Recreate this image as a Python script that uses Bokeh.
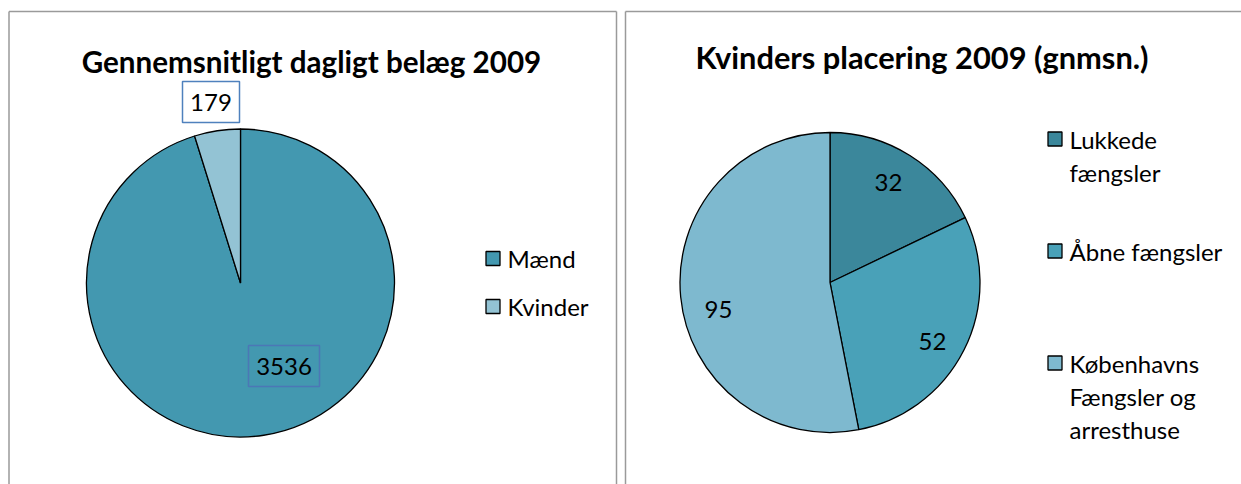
import numpy as np
from bokeh.plotting import figure
from bokeh.models import Range1d, ColumnDataSource
from bokeh.core.properties import value
from bokeh.embed import file_html
from bokeh.resources import INLINE

# ---------------- data ----------------
left_title = "Gennemsnitligt dagligt belæg 2009"
left_categories = ["Mænd", "Kvinder"]
left_values = [3536, 179]
left_colors = ["#4398B0", "#93C3D4"]

right_title = "Kvinders placering 2009 (gnmsn.)"
right_categories = ["Lukkede\nfængsler", "Åbne fængsler", "Københavns\nFængsler og\narresthuse"]
right_values = [32, 52, 95]
right_colors = ["#3B879B", "#49A1B8", "#7EB9CF"]

FONT = "Lato"
W, H = 1241, 484


def Y(sy):
    # screen y (page pixels) -> data y
    return H - sy


p = figure(width=W, height=H, x_range=Range1d(0, W), y_range=Range1d(0, H),
           output_backend="svg", toolbar_location=None, min_border=0)
p.axis.visible = False
p.grid.visible = False
p.outline_line_color = None
p.background_fill_color = "white"

# panel borders
bx0 = [8.5, 8.5, 616, 625, 625]
by0 = [Y(11), Y(11), Y(11), Y(11), Y(11)]
bx1 = [8.5, 616, 616, 625, 1245]
by1 = [Y(490), Y(11), Y(490), Y(490), Y(11)]
p.segment(x0=bx0, y0=by0, x1=bx1, y1=by1, line_color="#9A9A9A", line_width=1.5)


def pie(cx, cy, r, vals, colors):
    vals = np.asarray(vals, dtype=float)
    cum = np.concatenate([[0], np.cumsum(vals)]) / vals.sum() * 2 * np.pi
    start = np.pi / 2 - cum[:-1]
    end = np.pi / 2 - cum[1:]
    src = ColumnDataSource(dict(start=start, end=end, color=colors))
    p.wedge(x=cx, y=cy, radius=r, start_angle="start", end_angle="end",
            direction="clock", fill_color="color", line_color="black",
            line_width=1.3, source=src)


# ---------- left chart ----------
lcx, lcy, lr = 240, Y(282.5), 154
pie(lcx, lcy, lr, left_values, left_colors)

p.text(x=[311], y=[Y(61)], text=[left_title], text_font=value(FONT),
       text_font_style="bold", text_font_size="29.6px", text_align="center",
       text_baseline="alphabetic", text_color="black")

# data labels
lab_x = [283.5, 210.5]
lab_y = [Y(366), Y(101.5)]
p.rect(x=[283.5], y=[Y(365.5)], width=71, height=41, fill_color=None,
       line_color="#4F6FB8", line_width=1.5, line_alpha=0.8)
p.rect(x=[210.5], y=[Y(101.5)], width=57, height=41, fill_color="white",
       line_color="#4F81BD", line_width=1.5)
p.text(x=lab_x, y=lab_y, text=[str(v) for v in left_values], text_font=value(FONT),
       text_font_size="24px", text_align="center", text_baseline="middle",
       text_color="black")

# legend
leg_y = [Y(258), Y(306)]
p.rect(x=[492.5] * 2, y=leg_y, width=14, height=14, fill_color=left_colors,
       line_color="black", line_width=1.3)
p.text(x=[507] * 2, y=leg_y, text=left_categories, text_font=value(FONT),
       text_font_size="24px", text_align="left", text_baseline="middle",
       text_color="black")

# ---------- right chart ----------
rcx, rcy, rr = 829.5, Y(282), 150
pie(rcx, rcy, rr, right_values, right_colors)

p.text(x=[921.5], y=[Y(57)], text=[right_title], text_font=value(FONT),
       text_font_style="bold", text_font_size="30.8px", text_align="center",
       text_baseline="alphabetic", text_color="black")

p.text(x=[888, 932, 718], y=[Y(182), Y(341), Y(309)],
       text=[str(v) for v in right_values], text_font=value(FONT),
       text_font_size="24px", text_align="center", text_baseline="middle",
       text_color="black")

# legend
sq_y = [Y(138.5), Y(250.5), Y(362.5)]
p.rect(x=[1054.5] * 3, y=sq_y, width=14, height=14, fill_color=right_colors,
       line_color="black", line_width=1.3)
lx, ly, lt = [], [], []
for yy, lab in zip(sq_y, right_categories):
    for i, line in enumerate(lab.split("\n")):
        lx.append(1069)
        ly.append(yy - i * 33)
        lt.append(line)
p.text(x=lx, y=ly, text=lt, text_font=value(FONT), text_font_size="24px",
       text_align="left", text_baseline="middle", text_color="black")

open("out.html", "w").write(file_html(p, INLINE))
